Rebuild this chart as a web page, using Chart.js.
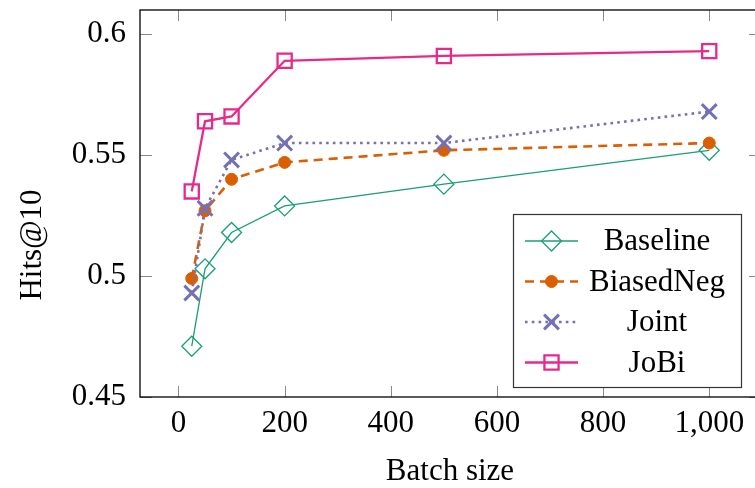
<!DOCTYPE html>
<html>
<head>
<meta charset="utf-8">
<script src="https://cdn.jsdelivr.net/npm/chart.js@4.4.1/dist/chart.umd.min.js"></script>
<style>
  html, body { margin: 0; padding: 0; background: #fff; overflow: hidden; width: 755px; height: 488px; }
  canvas { display: block; }
</style>
</head>
<body>
<canvas id="chart" width="770" height="488" style="width:770px;height:488px"></canvas>
<script>
// data
const batchSizes = [25, 50, 100, 200, 500, 1000];
const baseline  = [0.471, 0.503, 0.518, 0.529, 0.538, 0.552];
const biasedNeg = [0.499, 0.527, 0.540, 0.547, 0.552, 0.555];
const joint     = [0.493, 0.528, 0.548, 0.555, 0.555, 0.568];
const jobi      = [0.535, 0.564, 0.566, 0.589, 0.591, 0.593];
const xTicks = [0, 200, 400, 600, 800, 1000];
const yTicks = [0.45, 0.5, 0.55, 0.6];

const serif = "'Liberation Serif', 'Times New Roman', serif";
Chart.defaults.font.family = serif;
Chart.defaults.color = '#000';

function pts(ys) {
    return batchSizes.map((x, i) => ({ x: x, y: ys[i] }));
}

// own marker drawing, used by the legend
function marker(ctx, ds, x, y) {
    ctx.save();
    ctx.setLineDash([]);
    ctx.strokeStyle = ds.borderColor;
    ctx.fillStyle = ds.pointBackgroundColor;
    ctx.lineWidth = ds.pointBorderWidth;
    let r = ds.pointRadius;
    ctx.beginPath();
    if (ds.pointStyle === 'rectRot') {
        ctx.moveTo(x, y - r); ctx.lineTo(x + r, y); ctx.lineTo(x, y + r); ctx.lineTo(x - r, y); ctx.closePath();
        ctx.stroke();
    } else if (ds.pointStyle === 'circle') {
        ctx.arc(x, y, r, 0, Math.PI * 2);
        ctx.fill(); ctx.stroke();
    } else if (ds.pointStyle === 'crossRot') {
        let s = r * Math.SQRT1_2;
        ctx.moveTo(x - s, y - s); ctx.lineTo(x + s, y + s);
        ctx.moveTo(x + s, y - s); ctx.lineTo(x - s, y + s);
        ctx.stroke();
    } else {
        let s = r * Math.SQRT1_2;
        ctx.rect(x - s, y - s, 2 * s, 2 * s);
        ctx.stroke();
    }
    ctx.restore();
}

const frame = {
    id: 'frame',
    beforeDatasetsDraw(chart) {
        const ctx = chart.ctx, a = chart.chartArea;
        const xs = chart.scales.x, ys = chart.scales.y;
        ctx.save();
        ctx.strokeStyle = '#8a8a8a';
        ctx.lineWidth = 1;
        ctx.beginPath();
        xTicks.forEach(v => {
            let px = Math.round(xs.getPixelForValue(v)) + 0.5;
            ctx.moveTo(px, a.bottom); ctx.lineTo(px, a.bottom - 11);
            ctx.moveTo(px, a.top); ctx.lineTo(px, a.top + 11);
        });
        yTicks.forEach(v => {
            let py = Math.round(ys.getPixelForValue(v)) + 0.5;
            ctx.moveTo(a.left, py); ctx.lineTo(a.left + 12, py);
            ctx.moveTo(a.right, py); ctx.lineTo(a.right - 12, py);
        });
        ctx.stroke();
        ctx.restore();
    },
    afterDatasetsDraw(chart) {
        const ctx = chart.ctx, a = chart.chartArea;
        ctx.save();
        ctx.strokeStyle = '#000';
        ctx.lineWidth = 1.3;
        ctx.strokeRect(a.left, a.top, a.right - a.left, a.bottom - a.top);
        ctx.restore();
    },
    afterDraw(chart) {
        const ctx = chart.ctx;
        ctx.save();
        // axis titles
        ctx.fillStyle = '#000';
        ctx.font = '31px ' + serif;
        ctx.textAlign = 'center';
        ctx.textBaseline = 'alphabetic';
        ctx.fillText('Batch size', 450, 480);
        ctx.translate(41, 245);
        ctx.rotate(-Math.PI / 2);
        ctx.fillText('Hits@10', 0, 0);
        ctx.restore();

        // legend
        ctx.save();
        ctx.fillStyle = '#fff';
        ctx.fillRect(513, 214, 229, 174);
        ctx.strokeStyle = '#333';
        ctx.lineWidth = 1.2;
        ctx.strokeRect(513.5, 214.5, 228, 173);
        chart.data.datasets.forEach((ds, i) => {
            let y = 241 + i * 40.5;
            ctx.save();
            ctx.strokeStyle = ds.borderColor;
            ctx.lineWidth = ds.borderWidth;
            ctx.setLineDash(ds.borderDash || []);
            ctx.beginPath();
            ctx.moveTo(525, y); ctx.lineTo(578, y);
            ctx.stroke();
            ctx.restore();
            marker(ctx, ds, 551.5, y);
            ctx.fillStyle = '#000';
            ctx.font = '31px ' + serif;
            ctx.textAlign = 'center';
            ctx.textBaseline = 'middle';
            ctx.fillText(ds.label, 657, y + 1);
        });
        ctx.restore();
    }
};

const chart = new Chart(document.getElementById('chart'), {
    type: 'line',
    data: {
        datasets: [
            {
                label: 'Baseline', data: pts(baseline), order: 3,
                borderColor: '#1b9e77', borderWidth: 1.3,
                pointStyle: 'rectRot', pointRadius: 10, pointBorderWidth: 1.3,
                pointBackgroundColor: 'rgba(0,0,0,0)'
            },
            {
                label: 'BiasedNeg', data: pts(biasedNeg), order: 2,
                borderColor: '#d95f02', borderWidth: 2.6, borderDash: [9, 6],
                pointStyle: 'circle', pointRadius: 6, pointBorderWidth: 1,
                pointBackgroundColor: '#d95f02'
            },
            {
                label: 'Joint', data: pts(joint), order: 1,
                borderColor: '#7570b3', borderWidth: 2.6, borderDash: [2.6, 4.2],
                pointStyle: 'crossRot', pointRadius: 10.5, pointBorderWidth: 3,
                pointBackgroundColor: '#7570b3'
            },
            {
                label: 'JoBi', data: pts(jobi), order: 0,
                borderColor: '#e7298a', borderWidth: 2.3,
                pointStyle: 'rect', pointRadius: 10, pointBorderWidth: 2.3,
                pointBackgroundColor: 'rgba(0,0,0,0)'
            }
        ]
    },
    options: {
        responsive: false,
        animation: false,
        clip: false,
        layout: { autoPadding: false, padding: { left: 0, top: 10, right: 9, bottom: 0 } },
        elements: { line: { tension: 0, fill: false } },
        plugins: { legend: { display: false }, tooltip: { enabled: false } },
        scales: {
            x: {
                type: 'linear', min: -72.5, max: 1097.5,
                afterBuildTicks: s => { s.ticks = xTicks.map(v => ({ value: v })); },
                afterFit: s => { s.height = 91; s.paddingLeft = 0; s.paddingRight = 0; },
                grid: { display: false, drawTicks: false },
                border: { display: false },
                ticks: {
                    padding: 8, maxRotation: 0, autoSkip: false,
                    font: { size: 31 },
                    callback: v => v.toLocaleString('en-US')
                }
            },
            y: {
                type: 'linear', min: 0.45, max: 0.61,
                afterBuildTicks: s => { s.ticks = yTicks.map(v => ({ value: v })); },
                afterFit: s => { s.width = 140; s.paddingTop = 0; s.paddingBottom = 0; },
                grid: { display: false, drawTicks: false },
                border: { display: false },
                ticks: {
                    padding: 14, autoSkip: false,
                    font: { size: 31 },
                    callback: v => String(v)
                }
            }
        }
    },
    plugins: [frame]
});
</script>
</body>
</html>
